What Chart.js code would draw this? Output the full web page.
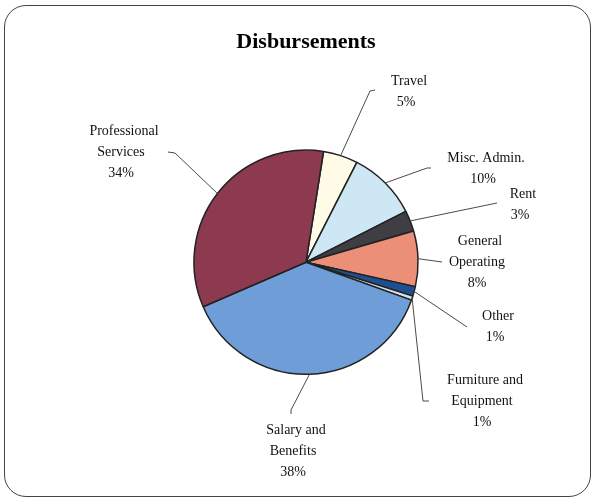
<!DOCTYPE html>
<html lang="en">
<head>
    <meta charset="UTF-8">
    <title>Disbursements</title>
    <script src="https://cdn.jsdelivr.net/npm/chart.js"></script>
    <style>
        body {
            margin: 0;
            padding: 0;
            background-color: #fff;
        }
        .wrap {
            position: relative;
            width: 594px;
            height: 500px;
        }
        .frame {
            position: absolute;
            left: 4px;
            top: 5px;
            width: 585px;
            height: 490px;
            border: 1.5px solid #444;
            border-radius: 22px;
            pointer-events: none;
        }
        canvas {
            position: absolute;
            left: 0;
            top: 0;
        }
    </style>
</head>
<body>
    <div class="wrap">
        <canvas id="pie" width="594" height="500"></canvas>
        <div class="frame"></div>
    </div>
    <script>
        // data
        const categories = ['Travel', 'Misc. Admin.', 'Rent', 'General Operating', 'Other', 'Furniture and Equipment', 'Salary and Benefits', 'Professional Services'];
        const shares = [5, 10, 3, 8, 1.4, 0.6, 38, 34];
        const labelLines = [
            ['Travel'],
            ['Misc. Admin.'],
            ['Rent'],
            ['General', 'Operating'],
            ['Other'],
            ['Furniture and', 'Equipment'],
            ['Salary and', 'Benefits'],
            ['Professional', 'Services']
        ];

        const sliceColors = ['#FFFBE6', '#CDE7F4', '#3E3E44', '#EC8F78', '#1F4F8E', '#D8DEE6', '#6F9DD8', '#8D3A50'];

        // label placement: first line centre, and leader path (from slice edge outward)
        const labelPos = [
            [409, 81], [486, 158], [523, 194], [480, 241],
            [498, 316], [485, 380], [296, 430], [124, 131]
        ];
        const leaderPath = [
            [[370, 91], [375, 90]],
            [[427, 168], [431, 168]],
            [[497, 203]],
            [[442, 262]],
            [[467, 327]],
            [[423, 401], [429, 401]],
            [[291, 410], [291, 414]],
            [[175, 153], [168, 152]]
        ];

        const outsideLabels = {
            id: 'outsideLabels',
            afterDatasetsDraw(chart) {
                const ctx = chart.ctx;
                const meta = chart.getDatasetMeta(0);
                const total = shares.reduce((a, b) => a + b, 0);
                ctx.save();
                meta.data.forEach((arc, i) => {
                    const mid = (arc.startAngle + arc.endAngle) / 2;
                    const ex = arc.x + Math.cos(mid) * arc.outerRadius;
                    const ey = arc.y + Math.sin(mid) * arc.outerRadius;
                    ctx.strokeStyle = '#4a4a4a';
                    ctx.lineWidth = 1;
                    ctx.beginPath();
                    ctx.moveTo(ex, ey);
                    leaderPath[i].forEach(p => ctx.lineTo(p[0], p[1]));
                    ctx.stroke();

                    const lines = labelLines[i].concat([Math.round(shares[i] / total * 100) + '%']);
                    ctx.fillStyle = '#111';
                    ctx.font = '14px "Liberation Serif", serif';
                    ctx.textAlign = 'center';
                    ctx.textBaseline = 'middle';
                    lines.forEach((t, k) => {
                        ctx.fillText(t, labelPos[i][0] - (k > 0 ? 3 : 0), labelPos[i][1] + k * 21);
                    });
                });
                ctx.restore();
            }
        };

        new Chart(document.getElementById('pie').getContext('2d'), {
            type: 'pie',
            data: {
                labels: categories,
                datasets: [{
                    data: shares,
                    backgroundColor: sliceColors,
                    borderColor: '#222',
                    borderWidth: 1.5
                }]
            },
            options: {
                responsive: false,
                animation: false,
                rotation: 9,
                layout: {
                    padding: { left: 193, right: 175, top: 0, bottom: 125 }
                },
                plugins: {
                    legend: { display: false },
                    tooltip: { enabled: false },
                    title: {
                        display: true,
                        text: 'Disbursements',
                        color: '#000',
                        font: { family: '"Liberation Serif", serif', size: 22, weight: 'bold' },
                        padding: { top: 29, bottom: 94 }
                    }
                }
            },
            plugins: [outsideLabels]
        });
    </script>
</body>
</html>
